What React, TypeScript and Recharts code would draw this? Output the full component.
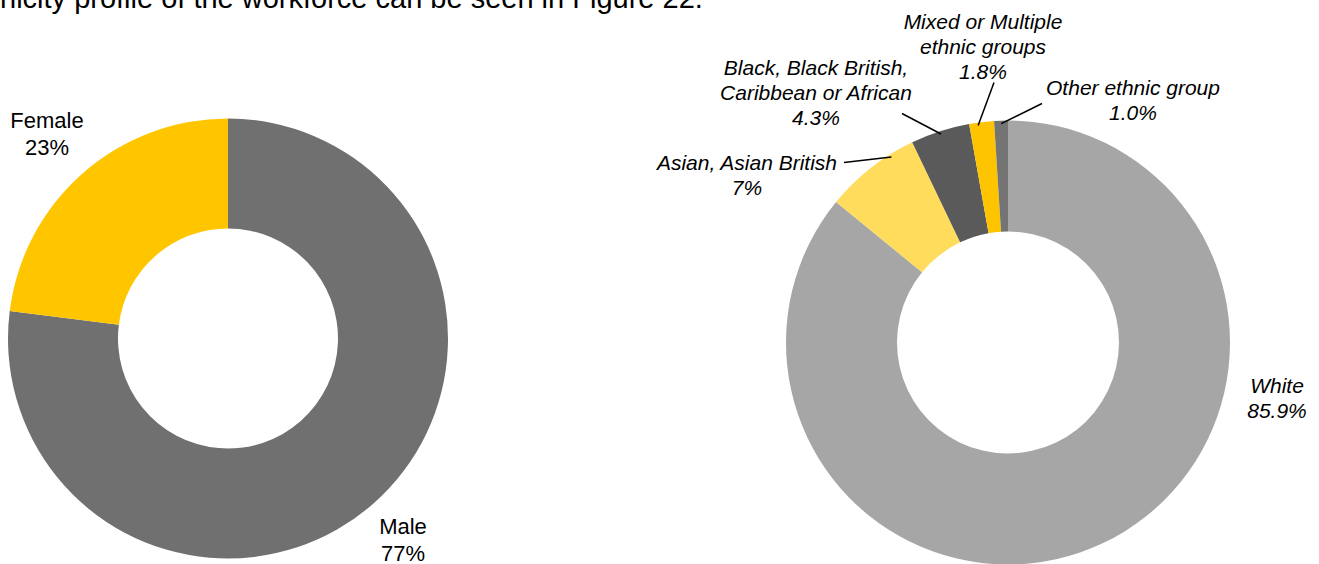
import React from 'react';
import { PieChart, Pie, Cell } from 'recharts';

// gender split of the workforce (%)
const genderNames = ['Male', 'Female'];
const genderValues = [77, 23];
const genderLabels = ['77%', '23%'];

// ethnicity split of the workforce (%)
const ethnicNames = [
  'White',
  'Asian, Asian British',
  'Black, Black British, Caribbean or African',
  'Mixed or Multiple ethnic groups',
  'Other ethnic group',
];
const ethnicValues = [85.9, 7, 4.3, 1.8, 1.0];
const ethnicLabels = ['85.9%', '7%', '4.3%', '1.8%', '1.0%'];

const genderData = genderNames.map((name, i) => ({ name, value: genderValues[i], label: genderLabels[i] }));
const ethnicData = ethnicNames.map((name, i) => ({ name, value: ethnicValues[i], label: ethnicLabels[i] }));

const genderColors = ['#707070', '#FFC600'];
const ethnicColors = ['#A6A6A6', '#FFDC5C', '#5A5A5A', '#FFC400', '#747474'];

const FONT = '"Liberation Sans", Arial, Helvetica, sans-serif';
const RADIAN = Math.PI / 180;

// label layout relative to the pie centre: text lines, baseline of first line,
// optional leader line start and a small angle nudge for where it meets the ring
type Placement = {
  lines: string[];
  dx: number;
  dy: number;
  lead?: [number, number];
  nudge?: number;
};

const genderPlacement: Record<string, Placement> = {
  Male: { lines: ['Male'], dx: 175, dy: 195 },
  Female: { lines: ['Female'], dx: -181, dy: -211 },
};

const ethnicPlacement: Record<string, Placement> = {
  White: { lines: ['White'], dx: 269, dy: 50 },
  'Asian, Asian British': { lines: ['Asian, Asian British'], dx: -261, dy: -173, lead: [-164, -180], nudge: -6 },
  'Black, Black British, Caribbean or African': {
    lines: ['Black, Black British,', 'Caribbean or African'],
    dx: -192,
    dy: -268,
    lead: [-106, -229],
  },
  'Mixed or Multiple ethnic groups': {
    lines: ['Mixed or Multiple', 'ethnic groups'],
    dx: -25,
    dy: -314,
    lead: [-14, -260],
    nudge: 1,
  },
  'Other ethnic group': { lines: ['Other ethnic group'], dx: 125, dy: -248, lead: [34, -239] },
};

function makeLabel(placement: Record<string, Placement>, italic: boolean, size: number, gap: number) {
  return (props: any) => {
    const { cx, cy, midAngle, outerRadius, payload } = props;
    const p = placement[payload.name];
    if (!p) return null;
    const all = [...p.lines, payload.label];
    let leader = null;
    if (p.lead) {
      const a = (midAngle + (p.nudge || 0)) * RADIAN;
      const ex = cx + (outerRadius - 3) * Math.cos(a);
      const ey = cy - (outerRadius - 3) * Math.sin(a);
      leader = (
        <line x1={cx + p.lead[0]} y1={cy + p.lead[1]} x2={ex} y2={ey} stroke="#000" strokeWidth={1.5} />
      );
    }
    return (
      <g>
        {leader}
        <text
          x={cx + p.dx}
          y={cy + p.dy}
          textAnchor="middle"
          fontFamily={FONT}
          fontSize={size}
          fontStyle={italic ? 'italic' : 'normal'}
          fill="#000"
        >
          {all.map((t, i) => (
            <tspan key={i} x={cx + p.dx} dy={i === 0 ? 0 : gap}>
              {t}
            </tspan>
          ))}
        </text>
      </g>
    );
  };
}

export default function App() {
  return (
    <div style={{ position: 'absolute', left: 0, top: 0, width: 1319, height: 564, overflow: 'hidden', background: '#fff' }}>
      <svg width={1319} height={40} style={{ position: 'absolute', left: 0, top: 0 }}>
        <text x={0} y={8} fontFamily={FONT} fontSize={29} fill="#000">
          nicity profile of the workforce can be seen in Figure 22.
        </text>
      </svg>
      <div style={{ position: 'absolute', left: 0, top: 0 }}>
        <PieChart width={1319} height={564} margin={{ top: 0, right: 0, bottom: 0, left: 0 }}>
          <Pie
            data={genderData}
            dataKey="value"
            nameKey="name"
            cx={228}
            cy={338.5}
            innerRadius={110}
            outerRadius={220}
            startAngle={90}
            endAngle={-270}
            stroke="none"
            labelLine={false}
            label={makeLabel(genderPlacement, false, 22, 27)}
            isAnimationActive={false}
          >
            {genderData.map((d, i) => (
              <Cell key={d.name} fill={genderColors[i]} />
            ))}
          </Pie>
          <Pie
            data={ethnicData}
            dataKey="value"
            nameKey="name"
            cx={1008}
            cy={342.5}
            innerRadius={111}
            outerRadius={222}
            startAngle={90}
            endAngle={-270}
            stroke="none"
            labelLine={false}
            label={makeLabel(ethnicPlacement, true, 21, 25)}
            isAnimationActive={false}
          >
            {ethnicData.map((d, i) => (
              <Cell key={d.name} fill={ethnicColors[i]} />
            ))}
          </Pie>
        </PieChart>
      </div>
    </div>
  );
}
